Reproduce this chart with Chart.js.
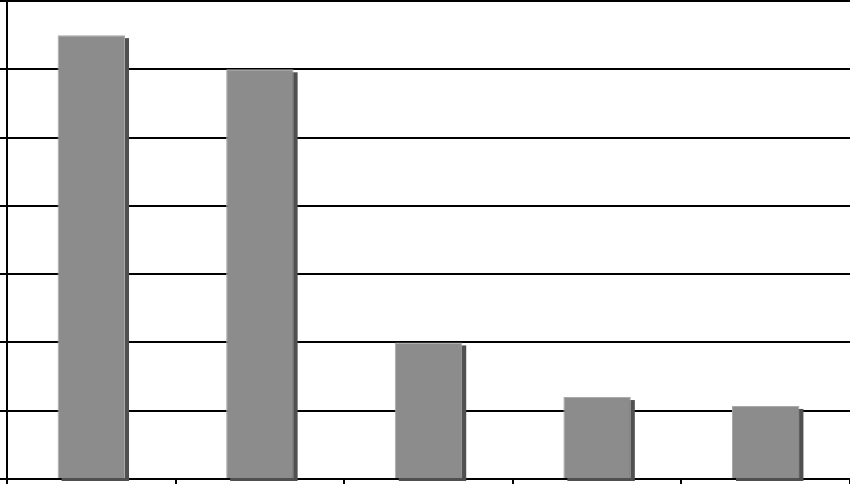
<!DOCTYPE html>
<html>
<head>
<meta charset="utf-8">
<script src="https://cdn.jsdelivr.net/npm/chart.js@4/dist/chart.umd.min.js"></script>
<style>
  html, body { margin: 0; padding: 0; background: #fff; }
  canvas { display: block; }
</style>
</head>
<body>
<canvas id="chart" width="850" height="484"></canvas>
<script>
const categories = ["A", "B", "C", "D", "E"];
const values = [6.5, 6.0, 2.0, 1.2, 1.07];
const yTicks = [0, 1, 2, 3, 4, 5, 6, 7];

// draws the dark drop shadow behind each bar, offset right and down
const barShadow = {
  id: "barShadow",
  beforeDatasetsDraw(chart) {
    const ctx = chart.ctx;
    const meta = chart.getDatasetMeta(0);
    ctx.save();
    ctx.fillStyle = "#505050";
    meta.data.forEach((bar) => {
      const p = bar.getProps(["x", "y", "base", "width"], true);
      const left = p.x - p.width / 2;
      ctx.fillRect(left + 4, p.y + 3, p.width, p.base - p.y);
    });
    ctx.restore();
  },
};

new Chart(document.getElementById("chart"), {
  type: "bar",
  data: {
    labels: categories,
    datasets: [
      {
        data: values,
        backgroundColor: "#8c8c8c",
        borderColor: "#a9a9a9",
        borderWidth: 1,
        barPercentage: 0.4,
        categoryPercentage: 1.0,
      },
    ],
  },
  plugins: [barShadow],
  options: {
    responsive: false,
    animation: false,
    devicePixelRatio: 1,
    layout: { padding: { top: 1, right: 0, left: 0, bottom: 0 } },
    scales: {
      x: {
        grid: {
          drawOnChartArea: false,
          drawTicks: true,
          tickLength: 5,
          color: "#000",
          lineWidth: 2,
        },
        border: { color: "#000", width: 2 },
        ticks: { display: false },
      },
      y: {
        min: 0,
        max: 7,
        afterBuildTicks: (axis) => {
          axis.ticks = yTicks.map((v) => ({ value: v }));
        },
        grid: {
          color: "#000",
          lineWidth: 2,
          tickLength: 7,
        },
        border: { color: "#000", width: 2 },
        ticks: { display: false },
      },
    },
    plugins: {
      legend: { display: false },
      tooltip: { enabled: false },
      title: { display: false },
    },
  },
});
</script>
</body>
</html>
